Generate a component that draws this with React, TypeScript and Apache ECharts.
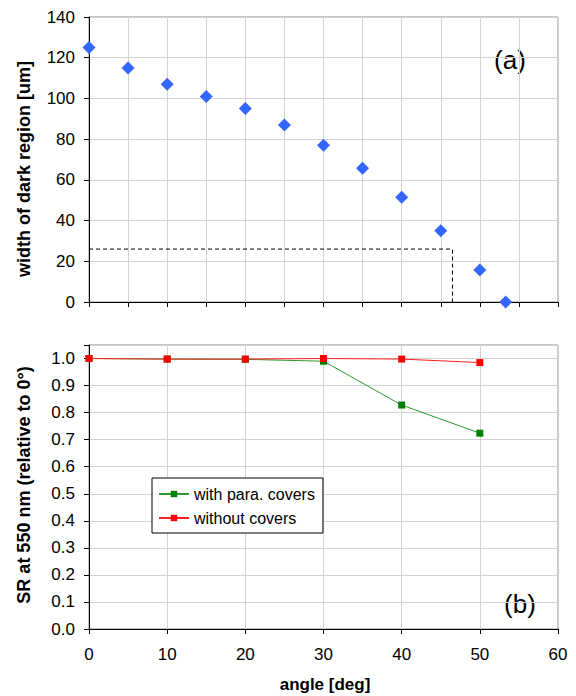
import React, { useEffect, useRef } from "react";
import * as echarts from "echarts";

// ---- data ----
const anglesA = [0, 5, 10, 15, 20, 25, 30, 35, 40, 45, 50, 53.3];
const darkWidth = [125, 115, 107, 101, 95, 87, 77, 65.7, 51.4, 35, 15.7, 0];
const guideX = [0, 46.5, 46.5];
const guideY = [26, 26, 0];

const anglesB = [0, 10, 20, 30, 40, 50];
const withCovers = [1.0, 0.998, 0.997, 0.99, 0.828, 0.724];
const withoutCovers = [1.0, 0.998, 0.998, 1.0, 0.998, 0.985];

const xTicksTopInterval = 5;
const xTicksBottomInterval = 10;

const FONT = "'Liberation Sans', Arial, sans-serif";

export default function App() {
  const ref = useRef<HTMLDivElement>(null);
  useEffect(() => {
    if (!ref.current) return;
    const chart = echarts.init(ref.current, null, { renderer: "svg" });
    const axisLine = { show: true, lineStyle: { color: "#000", width: 1 } };
    const axisTick = { show: true, inside: false, length: 5, lineStyle: { color: "#000" } };
    const split = { show: true, lineStyle: { color: "#d2d2d2", width: 1 } };
    const option: any = {
      animation: false,
      textStyle: { fontFamily: FONT },
      grid: [
        { left: 89, top: 17, width: 469, height: 285, show: true, borderColor: "#8c8c8c", borderWidth: 1, backgroundColor: "transparent" },
        { left: 89, top: 345, width: 469, height: 284, show: true, borderColor: "#8c8c8c", borderWidth: 1, backgroundColor: "transparent" },
      ],
      xAxis: [
        {
          gridIndex: 0, type: "value", min: 0, max: 60, interval: xTicksTopInterval,
          axisLine, axisTick, axisLabel: { show: false }, splitLine: split,
        },
        {
          gridIndex: 1, type: "value", min: 0, max: 60, interval: xTicksBottomInterval,
          axisLine, axisTick,
          axisLabel: { show: true, fontSize: 17, color: "#000", margin: 17, fontFamily: FONT },
          splitLine: split,
        },
      ],
      yAxis: [
        {
          gridIndex: 0, type: "value", min: 0, max: 140, interval: 20,
          axisLine, axisTick,
          axisLabel: { show: true, fontSize: 17, color: "#000", margin: 14, fontFamily: FONT },
          splitLine: split,
        },
        {
          gridIndex: 1, type: "value", min: 0, max: 1.05, interval: 0.1,
          axisLine, axisTick,
          axisLabel: {
            show: true, fontSize: 17, color: "#000", margin: 14, fontFamily: FONT,
            formatter: (v: number) => (v > 1.001 ? "" : v.toFixed(1)),
          },
          splitLine: split,
        },
      ],
      legend: {
        show: true,
        orient: "vertical",
        left: 152,
        top: 478,
        itemWidth: 30,
        itemHeight: 8,
        itemGap: 8,
        padding: [8, 8, 7, 6],
        backgroundColor: "#fff",
        borderColor: "#000",
        borderWidth: 1,
        borderRadius: 0,
        textStyle: { fontSize: 16, color: "#000", fontFamily: FONT },
        data: ["with para. covers", "without covers"],
      },
      series: [
        {
          name: "width",
          type: "scatter",
          xAxisIndex: 0, yAxisIndex: 0,
          symbol: "diamond",
          symbolSize: 13,
          itemStyle: { color: "#3366ff", opacity: 1 },
          data: anglesA.map((a, i) => [a, darkWidth[i]]),
          z: 5,
        },
        {
          name: "guide",
          type: "line",
          xAxisIndex: 0, yAxisIndex: 0,
          showSymbol: false,
          symbol: "none",
          lineStyle: { color: "#000", width: 1, type: [4, 3] },
          data: guideX.map((x, i) => [x, guideY[i]]),
          z: 3,
        },
        {
          name: "with para. covers",
          type: "line",
          xAxisIndex: 1, yAxisIndex: 1,
          symbol: "rect",
          symbolSize: 7,
          lineStyle: { color: "#2e9a2e", width: 1 },
          itemStyle: { color: "#008000" },
          data: anglesB.map((a, i) => [a, withCovers[i]]),
          z: 4,
        },
        {
          name: "without covers",
          type: "line",
          xAxisIndex: 1, yAxisIndex: 1,
          symbol: "rect",
          symbolSize: 7,
          lineStyle: { color: "#ff2020", width: 1 },
          itemStyle: { color: "#ff0000" },
          data: anglesB.map((a, i) => [a, withoutCovers[i]]),
          z: 5,
        },
      ],
      graphic: [
        {
          type: "text", x: 24, y: 169, rotation: Math.PI / 2,
          style: { text: "width of dark region [um]", font: `bold 18px ${FONT}`, fill: "#000", align: "center", verticalAlign: "middle" },
        },
        {
          type: "text", x: 24, y: 485, rotation: Math.PI / 2,
          style: { text: "SR at 550 nm (relative to 0°)", font: `bold 18px ${FONT}`, fill: "#000", align: "center", verticalAlign: "middle" },
        },
        {
          type: "text", x: 325, y: 684,
          style: { text: "angle [deg]", font: `bold 17px ${FONT}`, fill: "#000", align: "center", verticalAlign: "middle" },
        },
        {
          type: "text", x: 510, y: 60,
          style: { text: "(a)", font: `26px ${FONT}`, fill: "#000", align: "center", verticalAlign: "middle" },
        },
        {
          type: "text", x: 520, y: 604,
          style: { text: "(b)", font: `26px ${FONT}`, fill: "#000", align: "center", verticalAlign: "middle" },
        },
      ],
    };
    chart.setOption(option);
    return () => chart.dispose();
  }, []);
  return (
    <div
      ref={ref}
      style={{ position: "fixed", left: 0, top: 0, width: 576, height: 696, background: "#fff" }}
    />
  );
}
